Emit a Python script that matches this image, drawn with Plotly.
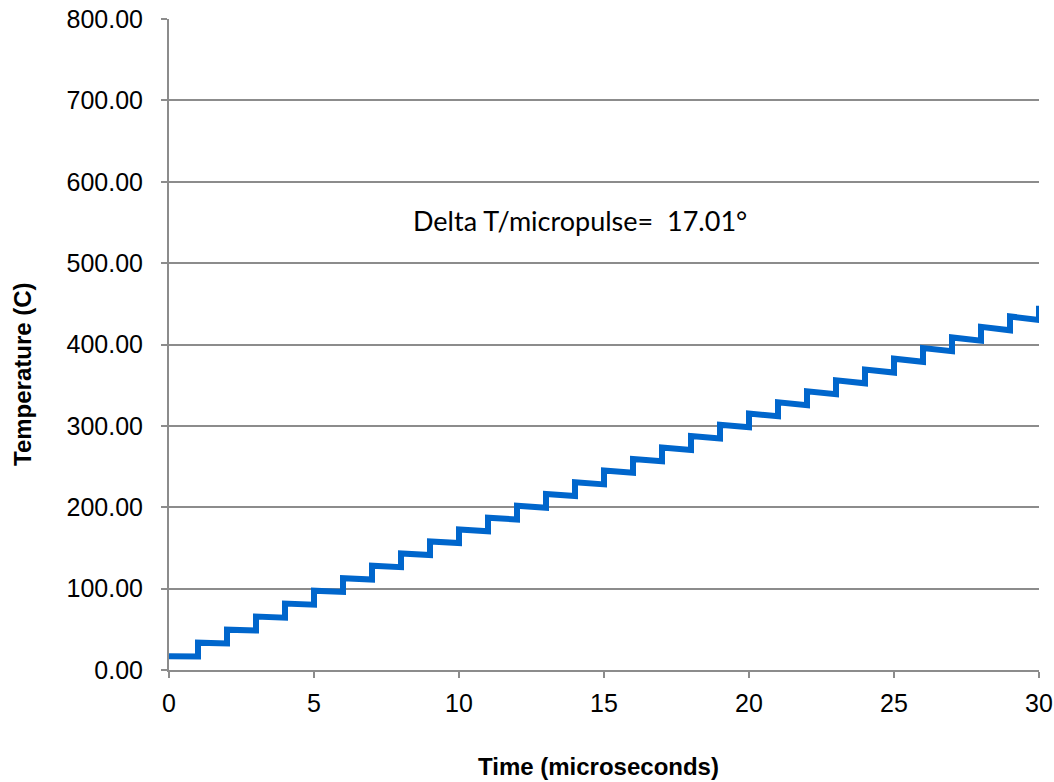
import plotly.graph_objects as go

# Temperature right after each micropulse (t = 0..30 us) and just before the next one
pulse_times = list(range(0, 31))
temp_after_pulse = [17.0, 33.6, 49.6, 65.6, 81.6, 97.4, 112.9, 128.1, 143.2, 158.0,
                    172.6, 187.2, 201.8, 216.3, 230.7, 245.1, 259.3, 273.5, 287.5, 301.4,
                    315.2, 328.9, 342.5, 355.9, 369.3, 382.6, 395.7, 408.7, 421.7, 434.5,
                    447.5]
temp_before_next = [16.6, 32.6, 48.6, 64.3, 80.2, 95.9, 111.2, 126.3, 141.3, 156.0,
                    170.4, 184.9, 199.4, 213.8, 228.1, 242.3, 256.4, 270.5, 284.4, 298.2,
                    311.9, 325.5, 338.9, 352.3, 365.5, 378.7, 391.7, 404.7, 417.5, 430.2]

y_ticks = [0, 100, 200, 300, 400, 500, 600, 700, 800]
y_tick_labels = ["0.00", "100.00", "200.00", "300.00", "400.00", "500.00", "600.00", "700.00", "800.00"]
x_ticks = [0, 5, 10, 15, 20, 25, 30]

xs, ys = [], []
for i, t in enumerate(pulse_times):
    xs.append(t)
    ys.append(temp_after_pulse[i])
    if i < len(temp_before_next):
        xs.append(t + 1)
        ys.append(temp_before_next[i])

fig = go.Figure()
fig.add_trace(go.Scatter(x=xs, y=ys, mode="lines",
                         line=dict(color="#0066CC", width=6), showlegend=False,
                         cliponaxis=False))

fig.add_annotation(x=14.17, y=553, xref="x", yref="y",
                   text="Delta T/micropulse=  17.01°", showarrow=False,
                   font=dict(family="Lato, Open Sans, sans-serif", size=27, color="#000000"))

title_font = dict(family="Liberation Sans, Arial, sans-serif", size=24, color="#000000")
fig.add_annotation(x=(598 - 169) / 870, y=-(766 - 670) / 651, xref="paper", yref="paper",
                   text="<b>Time (microseconds)</b>", showarrow=False, font=title_font,
                   xanchor="center", yanchor="middle")
fig.add_annotation(x=-(169 - 22) / 870, y=(670 - 374) / 651, xref="paper", yref="paper",
                   text="<b>Temperature (C)</b>", showarrow=False, font=title_font,
                   textangle=-90, xanchor="center", yanchor="middle")

axis_font = dict(family="Liberation Sans, Arial, sans-serif", size=25, color="#000000")
fig.update_layout(
    width=1054, height=782,
    margin=dict(l=169, r=15, t=19, b=112),
    paper_bgcolor="white", plot_bgcolor="white",
    xaxis=dict(range=[0, 30], tickvals=x_ticks, showgrid=False, zeroline=False,
               showline=True, linecolor="#8c8c8c", linewidth=2, automargin=False,
               ticks="outside", ticklen=6, tickcolor="#8c8c8c", tickwidth=2,
               tickfont=axis_font, ticklabelstandoff=4),
    yaxis=dict(range=[0, 800], tickvals=y_ticks, ticktext=y_tick_labels,
               showgrid=True, gridcolor="#8c8c8c", gridwidth=2, zeroline=False,
               showline=True, linecolor="#8c8c8c", linewidth=2, automargin=False,
               ticks="outside", ticklen=6, tickcolor="#8c8c8c", tickwidth=2,
               tickfont=axis_font, ticklabelstandoff=13),
)

fig.write_html("out.html")
